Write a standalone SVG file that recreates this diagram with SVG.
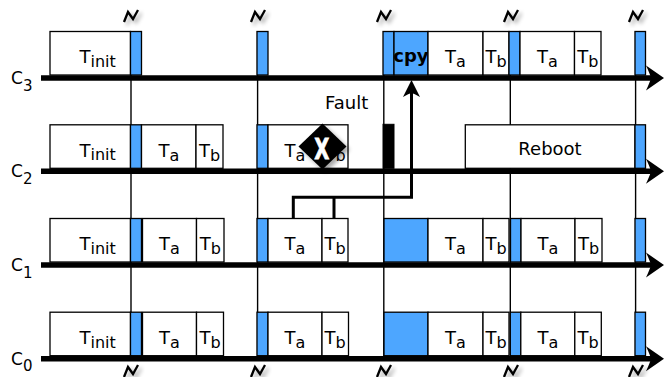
<svg xmlns="http://www.w3.org/2000/svg" width="664" height="377" viewBox="0 0 664 377">
<style>
.box{fill:#fff;stroke:#000;stroke-width:1.3}
.slot{fill:#4da6ff;stroke:#000;stroke-width:1.3}
.bar{fill:#000;stroke:#000;stroke-width:1}
.tl{stroke:#000;stroke-width:1.4;fill:none}
.axis{stroke:#000;stroke-width:5.5;fill:none;marker-end:url(#ah)}
.t{font-family:"DejaVu Sans","Liberation Sans",sans-serif;font-size:18px;fill:#000}
.s{font-size:16px}
.lab{font-family:"DejaVu Sans","Liberation Sans",sans-serif;font-size:17px;fill:#000}
.bolt{fill:none;stroke:#000;stroke-width:2.3;stroke-linejoin:miter;filter:url(#sh)}
.conn{fill:none;stroke:#000;stroke-width:3;stroke-linejoin:miter}
</style>
<defs>
<marker id="ah" markerUnits="userSpaceOnUse" viewBox="-8 -14 22 28" refX="0" refY="0" markerWidth="22" markerHeight="28" orient="auto" overflow="visible">
<path d="M12,0 L-6,-12.5 Q-2,-4 -1,0 Q-2,4 -6,12.5 Z" fill="#000"/>
</marker>
<marker id="ah2" markerUnits="userSpaceOnUse" viewBox="-6 -10 20 20" refX="0" refY="0" markerWidth="20" markerHeight="20" orient="auto" overflow="visible">
<path d="M13,0 L-4,-8.5 Q-0.5,-2.5 0,0 Q-0.5,2.5 -4,8.5 Z" fill="#000"/>
</marker>
<filter id="sh" x="-50%" y="-50%" width="200%" height="200%">
<feGaussianBlur in="SourceAlpha" stdDeviation="2"/>
<feOffset dx="3" dy="3" result="b"/>
<feComponentTransfer><feFuncA type="linear" slope="0.35"/></feComponentTransfer>
<feMerge><feMergeNode/><feMergeNode in="SourceGraphic"/></feMerge>
</filter>
</defs>

<g id="timelines">
<line class="tl" x1="131" y1="31" x2="131" y2="358"/>
<line class="tl" x1="257.6" y1="31" x2="257.6" y2="358"/>
<line class="tl" x1="383.8" y1="31" x2="383.8" y2="358"/>
<line class="tl" x1="510.3" y1="31" x2="510.3" y2="358"/>
<line class="tl" x1="635.6" y1="31" x2="635.6" y2="358"/>
</g>

<g id="bolts">
<path class="bolt" d="M124,22 L128,12 L133,19 L138,10"/>
<path class="bolt" d="M251,22 L255,12 L260,19 L265,10"/>
<path class="bolt" d="M377,22 L381,12 L386,19 L391,10"/>
<path class="bolt" d="M504,22 L508,12 L513,19 L518,10"/>
<path class="bolt" d="M629,22 L633,12 L638,19 L643,10"/>
<path class="bolt" d="M124,377 L128,367 L133,374 L138,365"/>
<path class="bolt" d="M251,377 L255,367 L260,374 L265,365"/>
<path class="bolt" d="M377,377 L381,367 L386,374 L391,365"/>
<path class="bolt" d="M504,377 L508,367 L513,374 L518,365"/>
<path class="bolt" d="M629,377 L633,367 L638,374 L643,365"/>
</g>

<!-- C3 -->
<g id="c3">
<g id="c3-tinit"><rect class="box" x="50" y="31.5" width="80.5" height="43.5"/><text class="t" x="79.5" y="63.3">T<tspan class="s" dy="3.6">init</tspan></text></g>
<g id="c3-s1"><rect class="slot" x="130.5" y="31.5" width="11" height="43.5"/></g>
<g id="c3-s2"><rect class="slot" x="257" y="31.5" width="11" height="43.5"/></g>
<g id="c3-s3"><rect class="slot" x="383" y="31.5" width="11" height="43.5"/></g>
<g id="c3-cpy"><rect class="slot" x="394" y="31.5" width="34" height="43.5"/><text class="t" x="393.3" y="61.5" font-weight="bold">cpy</text></g>
<g id="c3-ta1"><rect class="box" x="428" y="31.5" width="55" height="43.5"/><text class="t" x="455.5" y="63.3" text-anchor="middle">T<tspan class="s" dy="4">a</tspan></text></g>
<g id="c3-tb1"><rect class="box" x="483" y="31.5" width="26" height="43.5"/><text class="t" x="496" y="63.3" text-anchor="middle">T<tspan class="s" dy="4">b</tspan></text></g>
<g id="c3-s4"><rect class="slot" x="509" y="31.5" width="11" height="43.5"/></g>
<g id="c3-ta2"><rect class="box" x="520" y="31.5" width="54.5" height="43.5"/><text class="t" x="547.3" y="63.3" text-anchor="middle">T<tspan class="s" dy="4">a</tspan></text></g>
<g id="c3-tb2"><rect class="box" x="574.5" y="31.5" width="26.5" height="43.5"/><text class="t" x="587.8" y="63.3" text-anchor="middle">T<tspan class="s" dy="4">b</tspan></text></g>
<g id="c3-s5"><rect class="slot" x="635" y="31.5" width="10.5" height="43.5"/></g>
<line class="axis" x1="41" y1="78" x2="652" y2="78"/>
<text class="lab" x="11" y="84">C<tspan font-size="15" dy="6.5">3</tspan></text>
</g>

<!-- C2 -->
<g id="c2">
<g id="c2-tinit"><rect class="box" x="50" y="124.8" width="80.5" height="43.5"/><text class="t" x="79.5" y="156.6">T<tspan class="s" dy="3.6">init</tspan></text></g>
<g id="c2-s1"><rect class="slot" x="130.5" y="124.8" width="11" height="43.5"/></g>
<g id="c2-ta1"><rect class="box" x="141.5" y="124.8" width="54.5" height="43.5"/><text class="t" x="168.8" y="156.6" text-anchor="middle">T<tspan class="s" dy="4">a</tspan></text></g>
<g id="c2-tb1"><rect class="box" x="196" y="124.8" width="27" height="43.5"/><text class="t" x="209.5" y="156.6" text-anchor="middle">T<tspan class="s" dy="4">b</tspan></text></g>
<g id="c2-s2"><rect class="slot" x="257" y="124.8" width="11" height="43.5"/></g>
<g id="c2-ta2"><rect class="box" x="268" y="124.8" width="54" height="43.5"/><text class="t" x="295" y="156.6" text-anchor="middle">T<tspan class="s" dy="4">a</tspan></text></g>
<g id="c2-tb2"><rect class="box" x="322" y="124.8" width="26" height="43.5"/><text class="t" x="335" y="156.6" text-anchor="middle">T<tspan class="s" dy="4">b</tspan></text></g>
<g id="c2-fail"><rect class="bar" x="383" y="124.3" width="11" height="44"/></g>
<g id="c2-reboot"><rect class="box" x="465.3" y="124.8" width="169.7" height="43.5"/><text class="t" x="550" y="155" text-anchor="middle">Reboot</text></g>
<g id="c2-s5"><rect class="slot" x="635" y="124.8" width="10.5" height="43.5"/></g>
<line class="axis" x1="41" y1="171.3" x2="652" y2="171.3"/>
<text class="lab" x="11" y="177.3">C<tspan font-size="15" dy="6.5">2</tspan></text>
</g>

<!-- C1 -->
<g id="c1">
<g id="c1-tinit"><rect class="box" x="50" y="218.5" width="80.5" height="43.5"/><text class="t" x="79.5" y="250.3">T<tspan class="s" dy="3.6">init</tspan></text></g>
<g id="c1-s1"><rect class="slot" x="130.5" y="218.5" width="11" height="43.5"/></g>
<g id="c1-ta1"><rect class="box" x="142.5" y="218.5" width="54" height="43.5"/><text class="t" x="169.5" y="250.3" text-anchor="middle">T<tspan class="s" dy="4">a</tspan></text></g>
<g id="c1-tb1"><rect class="box" x="196.5" y="218.5" width="27.5" height="43.5"/><text class="t" x="210.3" y="250.3" text-anchor="middle">T<tspan class="s" dy="4">b</tspan></text></g>
<g id="c1-s2"><rect class="slot" x="257" y="218.5" width="11" height="43.5"/></g>
<g id="c1-ta2"><rect class="box" x="268" y="218.5" width="54" height="43.5"/><text class="t" x="295" y="250.3" text-anchor="middle">T<tspan class="s" dy="4">a</tspan></text></g>
<g id="c1-tb2"><rect class="box" x="322" y="218.5" width="26" height="43.5"/><text class="t" x="335" y="250.3" text-anchor="middle">T<tspan class="s" dy="4">b</tspan></text></g>
<g id="c1-s3"><rect class="slot" x="384" y="218.5" width="44" height="43.5"/></g>
<g id="c1-ta3"><rect class="box" x="428" y="218.5" width="55" height="43.5"/><text class="t" x="455.5" y="250.3" text-anchor="middle">T<tspan class="s" dy="4">a</tspan></text></g>
<g id="c1-tb3"><rect class="box" x="483" y="218.5" width="26" height="43.5"/><text class="t" x="496" y="250.3" text-anchor="middle">T<tspan class="s" dy="4">b</tspan></text></g>
<g id="c1-s4"><rect class="slot" x="510.5" y="218.5" width="10.5" height="43.5"/></g>
<g id="c1-ta4"><rect class="box" x="521" y="218.5" width="54" height="43.5"/><text class="t" x="548" y="250.3" text-anchor="middle">T<tspan class="s" dy="4">a</tspan></text></g>
<g id="c1-tb4"><rect class="box" x="575" y="218.5" width="27" height="43.5"/><text class="t" x="588.5" y="250.3" text-anchor="middle">T<tspan class="s" dy="4">b</tspan></text></g>
<g id="c1-s5"><rect class="slot" x="635" y="218.5" width="10.5" height="43.5"/></g>
<line class="axis" x1="41" y1="265" x2="652" y2="265"/>
<text class="lab" x="11" y="271">C<tspan font-size="15" dy="6.5">1</tspan></text>
</g>

<!-- C0 -->
<g id="c0">
<g id="c0-tinit"><rect class="box" x="50" y="312.2" width="80.5" height="43.5"/><text class="t" x="79.5" y="344">T<tspan class="s" dy="3.6">init</tspan></text></g>
<g id="c0-s1"><rect class="slot" x="130.5" y="312.2" width="11" height="43.5"/></g>
<g id="c0-ta1"><rect class="box" x="142.5" y="312.2" width="54" height="43.5"/><text class="t" x="169.5" y="344" text-anchor="middle">T<tspan class="s" dy="4">a</tspan></text></g>
<g id="c0-tb1"><rect class="box" x="196.5" y="312.2" width="27" height="43.5"/><text class="t" x="210" y="344" text-anchor="middle">T<tspan class="s" dy="4">b</tspan></text></g>
<g id="c0-s2"><rect class="slot" x="257" y="312.2" width="11" height="43.5"/></g>
<g id="c0-ta2"><rect class="box" x="268" y="312.2" width="54" height="43.5"/><text class="t" x="295" y="344" text-anchor="middle">T<tspan class="s" dy="4">a</tspan></text></g>
<g id="c0-tb2"><rect class="box" x="322" y="312.2" width="26.5" height="43.5"/><text class="t" x="335.2" y="344" text-anchor="middle">T<tspan class="s" dy="4">b</tspan></text></g>
<g id="c0-s3"><rect class="slot" x="384" y="312.2" width="44" height="43.5"/></g>
<g id="c0-ta3"><rect class="box" x="428" y="312.2" width="55" height="43.5"/><text class="t" x="455.5" y="344" text-anchor="middle">T<tspan class="s" dy="4">a</tspan></text></g>
<g id="c0-tb3"><rect class="box" x="483" y="312.2" width="26" height="43.5"/><text class="t" x="496" y="344" text-anchor="middle">T<tspan class="s" dy="4">b</tspan></text></g>
<g id="c0-s4"><rect class="slot" x="510.3" y="312.2" width="10.5" height="43.5"/></g>
<g id="c0-ta4"><rect class="box" x="520.8" y="312.2" width="54" height="43.5"/><text class="t" x="547.8" y="344" text-anchor="middle">T<tspan class="s" dy="4">a</tspan></text></g>
<g id="c0-tb4"><rect class="box" x="574.8" y="312.2" width="26.5" height="43.5"/><text class="t" x="588" y="344" text-anchor="middle">T<tspan class="s" dy="4">b</tspan></text></g>
<g id="c0-s5"><rect class="slot" x="635" y="312.2" width="10.5" height="43.5"/></g>
<line class="axis" x1="41" y1="358.7" x2="652" y2="358.7"/>
<text class="lab" x="11" y="364.7">C<tspan font-size="15" dy="6.5">0</tspan></text>
</g>

<g id="fault">
<text class="t" x="346.7" y="109.3" text-anchor="middle">Fault</text>
</g>

<g id="fault-marker">
<path d="M322.5,123.5 L346.5,146.5 L322.5,169.5 L298.5,146.5 Z" fill="#000" filter="url(#sh)"/>
<text transform="translate(321.7,158.5) scale(0.7,1)" font-family="DejaVu Sans,Liberation Sans,sans-serif" font-size="28" font-weight="bold" fill="#fff" stroke="#fff" stroke-width="0.8" text-anchor="middle">X</text>
</g>

<g id="connectors">
<path class="conn" d="M293.3,218.5 V197.3 H411.5 V93" marker-end="url(#ah2)"/>
<path class="conn" d="M334,218.5 V197.3"/>
</g>
</svg>
